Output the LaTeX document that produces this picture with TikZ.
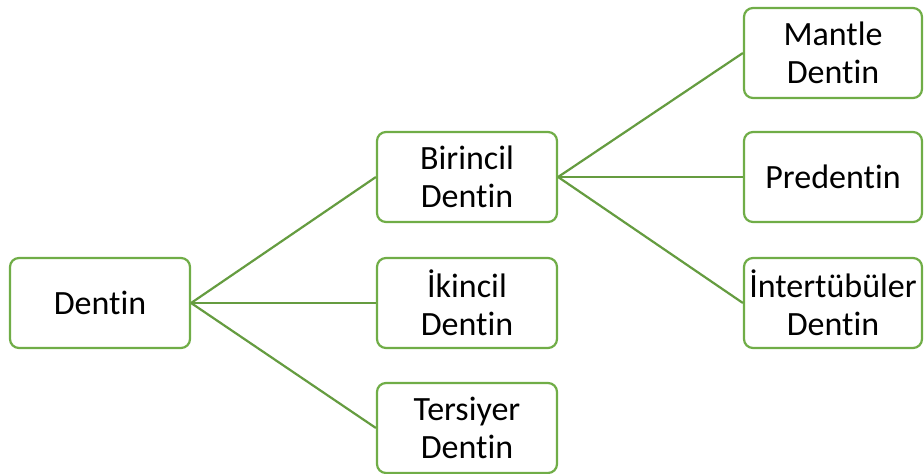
\documentclass[tikz,border=0pt]{standalone}
\usepackage{fontspec}
\setmainfont{Carlito}[Ligatures=NoCommon]
\definecolor{leafgreen}{HTML}{70AD47}
\begin{document}
\begin{tikzpicture}[x=1pt,y=-1pt,
  box/.style={draw=leafgreen, line width=2.2pt, rounded corners=9pt, fill=white,
    minimum width=180pt, minimum height=90pt, align=center, inner sep=0pt,
    font=\fontsize{34}{38}\selectfont},
  link/.style={draw=leafgreen!90!black, line width=2.2pt}]
\useasboundingbox (0,0) rectangle (924,474);
\node[box] (dentin) at (100,303) {Dentin};
\node[box] (birincil) at (467,177) {Birincil\\Dentin};
\node[box] (ikincil) at (467,303) {İkincil\\Dentin};
\node[box] (tersiyer) at (467,428) {Tersiyer\\Dentin};
\node[box, minimum width=178pt] (mantle) at (833,53) {Mantle\\Dentin};
\node[box, minimum width=178pt] (predentin) at (833,177) {Predentin};
\node[box, minimum width=178pt] (intertubuler) at (833,303) {İntertübüler\\Dentin};
\draw[link] (dentin.east) -- (birincil.west);
\draw[link] (dentin.east) -- (ikincil.west);
\draw[link] (dentin.east) -- (tersiyer.west);
\draw[link] (birincil.east) -- (mantle.west);
\draw[link] (birincil.east) -- (predentin.west);
\draw[link] (birincil.east) -- (intertubuler.west);
\end{tikzpicture}
\end{document}
